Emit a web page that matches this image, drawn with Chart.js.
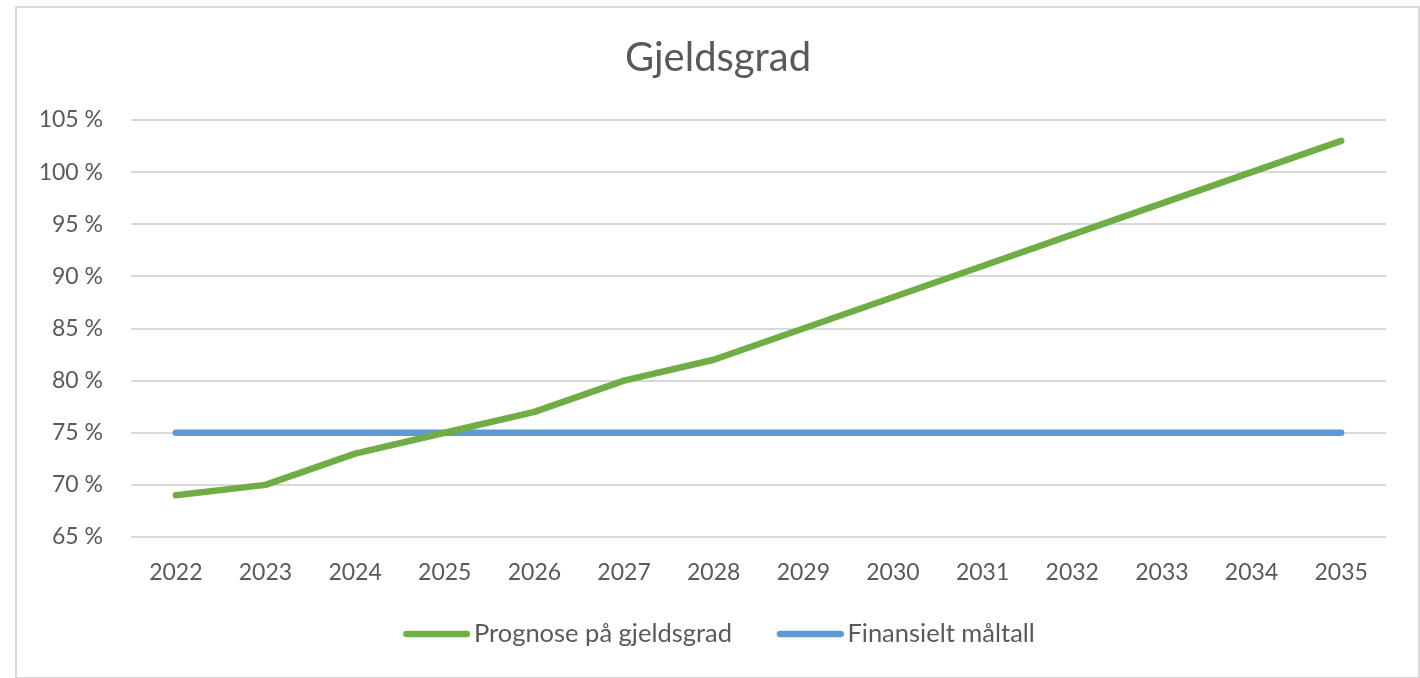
<!DOCTYPE html>
<html>
<head>
<meta charset="utf-8">
<script src="https://cdn.jsdelivr.net/npm/chart.js@4/dist/chart.umd.min.js"></script>
<style>
  html, body { margin: 0; padding: 0; background: #ffffff; }
  #wrap { position: relative; width: 1420px; height: 678px; }
  #frame { position: absolute; left: 15px; top: 6px; width: 1401px; height: 669px; border: 2px solid #d9d9d9; pointer-events: none; }
  canvas { position: absolute; left: 0; top: 0; }
</style>
</head>
<body>
<div id="wrap">
  <canvas id="c" width="1420" height="678"></canvas>
  <div id="frame"></div>
</div>
<script>
const years = ['2022','2023','2024','2025','2026','2027','2028','2029','2030','2031','2032','2033','2034','2035'];
const prognose = [69, 70, 73, 75, 77, 80, 82, 85, 88, 91, 94, 97, 100, 103];
const maltall = [75, 75, 75, 75, 75, 75, 75, 75, 75, 75, 75, 75, 75, 75];
const seriesNames = ['Prognose på gjeldsgrad', 'Finansielt måltall'];
const chartTitle = 'Gjeldsgrad';
const yMin = 65, yMax = 105, yStep = 5;

const FONT = 'Lato, "Open Sans", sans-serif';
const TEXT = '#595959';
const GREEN = '#70AD47', BLUE = '#5B9BD5';
const LEG_SIZE = 25.5;

// legend line swatch: a 67px round-capped line sitting on the right of the swatch image
function swatch(color) {
  const c = document.createElement('canvas');
  c.width = 78; c.height = 10;
  const x = c.getContext('2d');
  x.strokeStyle = color; x.lineWidth = 6.5; x.lineCap = 'round';
  x.beginPath(); x.moveTo(11 + 3.25, 5); x.lineTo(78 - 3.25, 5); x.stroke();
  return c;
}
// extra trailing gap after the first legend entry
const meas = document.createElement('canvas').getContext('2d');
meas.font = LEG_SIZE + 'px ' + FONT;
const nbspW = meas.measureText('\u00A0').width || 6;
const gapText = '\u00A0'.repeat(Math.max(0, Math.round(35 / nbspW)));

new Chart(document.getElementById('c'), {
  type: 'line',
  data: {
    labels: years,
    datasets: [
      { label: seriesNames[0], data: prognose, borderColor: GREEN, backgroundColor: GREEN,
        borderWidth: 6.5, borderCapStyle: 'round', borderJoinStyle: 'round', pointRadius: 0, tension: 0,
        pointStyle: swatch(GREEN) },
      { label: seriesNames[1], data: maltall, borderColor: BLUE, backgroundColor: BLUE,
        borderWidth: 6.5, borderCapStyle: 'round', borderJoinStyle: 'round', pointRadius: 0, tension: 0,
        pointStyle: swatch(BLUE) }
    ]
  },
  options: {
    responsive: false,
    animation: false,
    layout: { padding: { left: 16, right: 0, top: 7, bottom: 21.25 } },
    plugins: {
      title: {
        display: true, text: chartTitle, color: TEXT,
        font: { family: FONT, size: 40, weight: 'normal' },
        padding: { top: 27, bottom: 38 }
      },
      legend: {
        position: 'bottom',
        labels: {
          color: TEXT, font: { family: FONT, size: LEG_SIZE },
          usePointStyle: true, pointStyleWidth: 60,
          padding: 10,
          generateLabels: (chart) => {
            const items = Chart.defaults.plugins.legend.labels.generateLabels(chart);
            if (items.length > 1) items[0].text = items[0].text + gapText;
            return items;
          }
        }
      },
      tooltip: { enabled: false }
    },
    scales: {
      x: {
        offset: true,
        grid: { display: false, drawTicks: false },
        border: { display: false },
        ticks: { color: TEXT, font: { family: FONT, size: 23 }, padding: 22, maxRotation: 0 },
        afterFit: (s) => { s.height = 74.25; }
      },
      y: {
        min: yMin, max: yMax,
        grid: { color: '#d9d9d9', lineWidth: 2, drawTicks: false },
        border: { display: false },
        ticks: { stepSize: yStep, color: TEXT, font: { family: FONT, size: 23 }, padding: 28,
                 callback: (v) => v + ' %' },
        afterFit: (s) => { s.width = 115; }
      },
      yRight: {
        position: 'right',
        min: yMin, max: yMax,
        grid: { display: false, drawTicks: false },
        border: { display: false },
        ticks: { display: false },
        afterFit: (s) => { s.width = 34; }
      }
    }
  }
});
</script>
</body>
</html>
